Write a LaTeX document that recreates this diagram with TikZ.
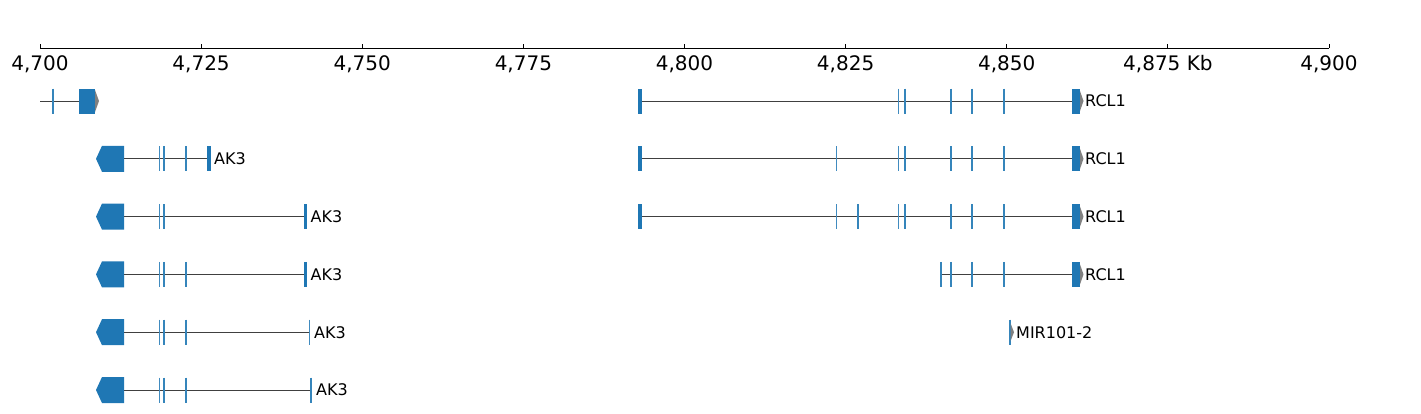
\documentclass[tikz,border=0pt]{standalone}
\usepackage{fontspec}
\setmainfont{DejaVu Sans}
\definecolor{gblue}{HTML}{1F77B4}
\definecolor{gtip}{HTML}{808080}
\newcommand\gexon[3]{\draw[#1] (#2,#3-12.5) -- (#2,#3+12.5);}
\newcommand\gplusend[2]{%
  \fill[gblue] (1072,#1-12.5) rectangle (1080,#1+12.5);
  \fill[gtip] (1080,#1-10) -- (1083.5,#1) -- (1080,#1+10) -- cycle;
  \node[glabel] (#2) at (1085,#1) {RCL1};}
\newcommand\gminusbox[1]{%
  \fill[gblue] (124,#1-13) -- (102,#1-13) -- (96,#1) -- (102,#1+13) -- (124,#1+13) -- cycle;}
\begin{document}
\begin{tikzpicture}[x=1pt,y=-1pt,
  intron/.style={draw=black!75,line width=0.9pt},
  exa/.style={draw=gblue!85,line width=1pt},
  exb/.style={draw=gblue!90,line width=2pt},
  exc/.style={draw=gblue,line width=3.5pt},
  glabel/.style={anchor=west,inner sep=0pt,font=\fontsize{16}{16}\selectfont},
  ticklabel/.style={anchor=base,inner sep=0pt,font=\fontsize{20}{20}\selectfont}]
\useasboundingbox (0,0) rectangle (1421,413);
% axis
\coordinate (axL) at (40,48);
\coordinate (axR) at (1329,48);
\draw[line width=1pt] (axL) -- (axR);
\foreach \x/\t [count=\i] in {40/{4,700},201.1/{4,725},362.25/{4,750},523.4/{4,775},684.5/{4,800},845.6/{4,825},1006.75/{4,850},1167.9/{4,875 Kb},1329/{4,900}}{
  \draw[line width=1pt] (\x,44) -- (\x,48);
  \node[ticklabel] (tl\i) at (\x,70) {\t};
}
% ---------- row 1 ----------
\def\ry{101}
\draw[intron] (40,\ry) -- (79,\ry);
\gexon{exb}{53}{\ry}
\fill[gblue] (79,\ry-12.5) rectangle (95,\ry+12.5);
\fill[gtip] (95,\ry-11) -- (99,\ry) -- (95,\ry+11) -- cycle;
\draw[intron] (642,\ry) -- (1072,\ry);
\fill[gblue] (638,\ry-12.5) rectangle (642,\ry+12.5);
\gexon{exa}{898}{\ry}
\gexon{exb}{905}{\ry}
\gexon{exb}{951}{\ry}
\gexon{exb}{972}{\ry}
\gexon{exb}{1004}{\ry}
\gplusend{\ry}{rcl1a}
% ---------- row 2 ----------
\def\ry{158.8}
\gminusbox{\ry}
\draw[intron] (124,\ry) -- (209,\ry);
\gexon{exa}{159.5}{\ry}
\gexon{exb}{164}{\ry}
\gexon{exb}{186}{\ry}
\gexon{exc}{209}{\ry}
\node[glabel] (ak3a) at (214,\ry) {AK3};
\draw[intron] (642,\ry) -- (1072,\ry);
\fill[gblue] (638,\ry-12.5) rectangle (642,\ry+12.5);
\gexon{exa}{836.5}{\ry}
\gexon{exa}{898}{\ry}
\gexon{exb}{905}{\ry}
\gexon{exb}{951}{\ry}
\gexon{exb}{972}{\ry}
\gexon{exb}{1004}{\ry}
\gplusend{\ry}{rcl1b}
% ---------- row 3 ----------
\def\ry{216.6}
\gminusbox{\ry}
\draw[intron] (124,\ry) -- (305.5,\ry);
\gexon{exa}{159.5}{\ry}
\gexon{exb}{164}{\ry}
\gexon{exc}{305.5}{\ry}
\node[glabel] (ak3b) at (310.5,\ry) {AK3};
\draw[intron] (642,\ry) -- (1072,\ry);
\fill[gblue] (638,\ry-12.5) rectangle (642,\ry+12.5);
\gexon{exa}{836.5}{\ry}
\gexon{exb}{858}{\ry}
\gexon{exa}{898}{\ry}
\gexon{exb}{905}{\ry}
\gexon{exb}{951}{\ry}
\gexon{exb}{972}{\ry}
\gexon{exb}{1004}{\ry}
\gplusend{\ry}{rcl1c}
% ---------- row 4 ----------
\def\ry{274.4}
\gminusbox{\ry}
\draw[intron] (124,\ry) -- (305.5,\ry);
\gexon{exa}{159.5}{\ry}
\gexon{exb}{164}{\ry}
\gexon{exb}{186}{\ry}
\gexon{exc}{305.5}{\ry}
\node[glabel] (ak3c) at (310.5,\ry) {AK3};
\draw[intron] (941,\ry) -- (1072,\ry);
\gexon{exb}{941}{\ry}
\gexon{exb}{951}{\ry}
\gexon{exb}{972}{\ry}
\gexon{exb}{1004}{\ry}
\gplusend{\ry}{rcl1d}
% ---------- row 5 ----------
\def\ry{332.2}
\gminusbox{\ry}
\draw[intron] (124,\ry) -- (309.5,\ry);
\gexon{exa}{159.5}{\ry}
\gexon{exb}{164}{\ry}
\gexon{exb}{186}{\ry}
\gexon{exa}{309.5}{\ry}
\node[glabel] (ak3d) at (314,\ry) {AK3};
\gexon{exb}{1009.5}{\ry}
\fill[gtip] (1010.5,\ry-9) -- (1014,\ry) -- (1010.5,\ry+9) -- cycle;
\node[glabel] (mir) at (1016,\ry) {MIR101-2};
% ---------- row 6 ----------
\def\ry{390}
\gminusbox{\ry}
\draw[intron] (124,\ry) -- (311,\ry);
\gexon{exa}{159.5}{\ry}
\gexon{exb}{164}{\ry}
\gexon{exb}{186}{\ry}
\gexon{exb}{311}{\ry}
\node[glabel] (ak3e) at (316,\ry) {AK3};
\end{tikzpicture}
\end{document}
